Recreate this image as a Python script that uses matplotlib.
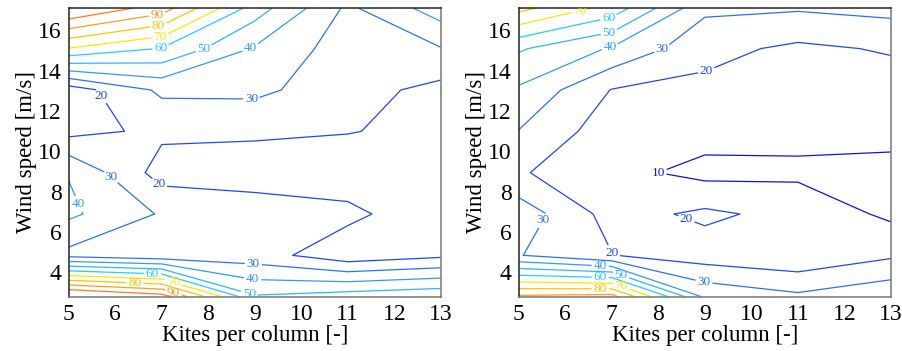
import numpy as np
import matplotlib
matplotlib.use("Agg")
import matplotlib.pyplot as plt

plt.rcParams['font.family'] = ['Liberation Serif', 'DejaVu Serif']

kites = [5, 7, 9, 11, 13]
wind = [2.8, 4.85, 6.9, 8.95, 11.0, 13.05, 15.1, 17.1]

# rows = wind speed (bottom to top), columns = kites per column
grid_left = [
    [115, 105, 51, 55, 58],
    [27, 23, 24.4, 13.6, 18],
    [42, 29, 25, 22.5, 12.9],
    [39.5, 15.75, 15.4, 14.2, 15],
    [17, 22, 21.4, 20.4, 17.7],
    [14.6, 32, 32.4, 24, 17],
    [69.5, 59.5, 39, 25, 29.5],
    [111, 95, 55, 28, 45],
]
grid_right = [
    [92, 94, 38, 32, 38],
    [30.5, 20.3, 15, 12, 18.5],
    [36, 16, 22, 16.7, 8],
    [21, 13, 7, 8, 7],
    [29.7, 14.5, 14, 13, 13],
    [38.6, 19.6, 17.6, 15, 15],
    [51.2, 39, 23, 18, 21],
    [83, 66, 32, 31, 33],
]

levels = [10, 20, 30, 40, 50, 60, 70, 80, 90, 100]
level_colors = ['#1010e8', '#1f45ff', '#2a70ff', '#3399ff', '#2fb4ff',
                '#22ccff', '#ffe600', '#ffc400', '#ff9a1f', '#ff7a1a']

# where the contour labels sit
labels_left = [(6.9, 16.8), (6.93, 16.28), (6.96, 15.7), (6.98, 15.12),
               (7.9, 15.15), (8.9, 15.17), (8.93, 12.7), (5.6, 12.6),
               (5.92, 8.76), (5.22, 7.4), (7.0, 8.55), (8.97, 4.5),
               (8.97, 3.87), (8.93, 3.33), (6.8, 3.93), (7.25, 3.52),
               (6.42, 3.46), (7.25, 3.0)]
labels_right = [(6.32, 16.87), (6.95, 16.45), (6.95, 15.82), (6.96, 15.2),
                (8.07, 15.15), (9.04, 13.96), (8.0, 9.0), (5.46, 6.66),
                (8.62, 6.74), (7.0, 4.95), (8.97, 3.42), (6.75, 4.3),
                (7.2, 3.86), (6.75, 3.75), (7.2, 3.31), (6.75, 3.19)]

fig = plt.figure(figsize=(9.03, 3.51), dpi=100)
ax1 = fig.add_axes([0.0761, 0.1547, 0.412, 0.8217])
ax2 = fig.add_axes([0.5744, 0.1547, 0.4123, 0.8217])

for ax, z, lab in [(ax1, grid_left, labels_left), (ax2, grid_right, labels_right)]:
    cs = ax.contour(kites, wind, np.array(z), levels=levels,
                    colors=level_colors, linewidths=0.9)
    txts = ax.clabel(cs, fmt='%d', fontsize=9.5, inline=True, inline_spacing=2,
                     manual=lab)
    for t in txts:
        t.set_rotation(0)
    ax.set_xlim(5, 13)
    ax.set_ylim(2.8, 17.1)
    ax.set_xticks(range(5, 14))
    ax.set_yticks(range(4, 17, 2))
    ax.tick_params(length=0, labelsize=17, pad=5)
    ax.set_xlabel('Kites per column [-]', fontsize=16.5, labelpad=0)
    ax.set_ylabel('Wind speed [m/s]', fontsize=16.5, labelpad=1)
    for side in ['left', 'top']:
        ax.spines[side].set_color('#222222')
    for side in ['right', 'bottom']:
        ax.spines[side].set_color('#777777')
    for s in ax.spines.values():
        s.set_linewidth(1.1)

fig.savefig('out.png', dpi=100)
